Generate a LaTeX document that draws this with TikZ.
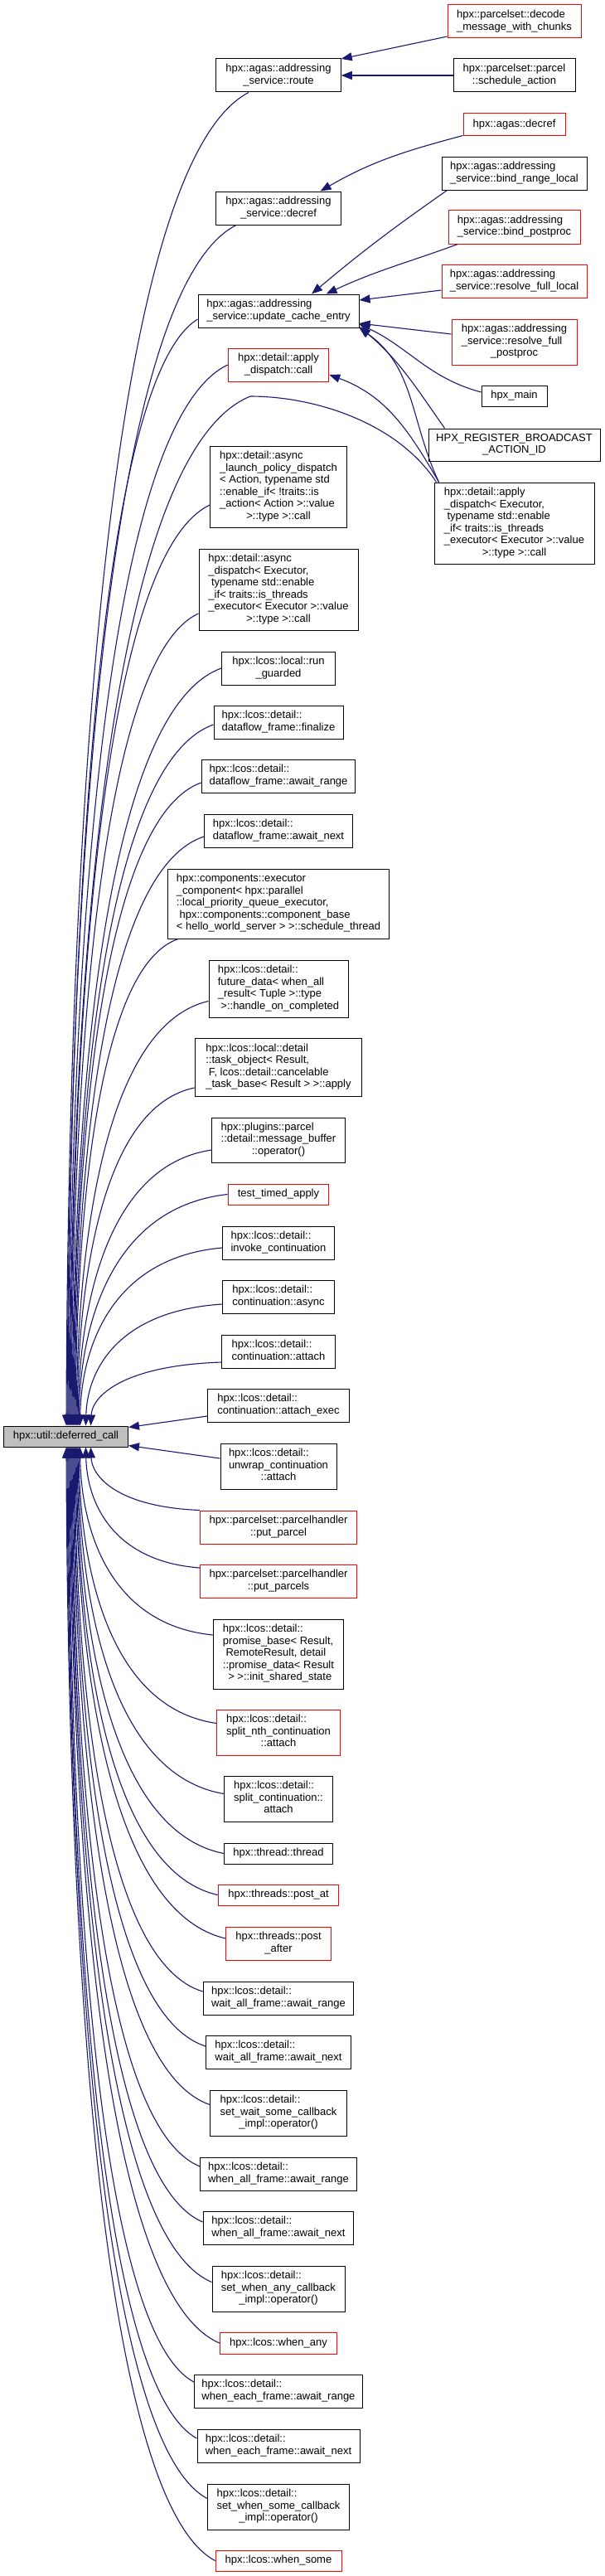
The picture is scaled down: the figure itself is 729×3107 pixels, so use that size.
\documentclass[tikz,border=0pt]{standalone}
\usepackage{fontspec}
\setmainfont{Liberation Sans}
\usetikzlibrary{arrows.meta,calc}
\definecolor{edgeblue}{HTML}{191970}
\definecolor{nodegray}{HTML}{BFBFBF}
\newcommand\dgfont{\fontsize{13}{14.5}\selectfont}
\newcommand\dlab[2]{\begin{tabular}{@{}l@{}}#1\\\multicolumn{1}{@{}c@{}}{#2}\end{tabular}}
\newcommand\ecall[2]{\draw[edge] let \p1=(#1), \p2=(#2) in (\p1) .. controls ({\x1-0.77*(\x1-\x2)},{\y1-0.055*(\y1-\y2)}) and ({\x2+0.01*(\x1-\x2)},{\y1-0.55*(\y1-\y2)}) .. (\p2);}
\tikzset{
  cn/.style={draw=black, line width=1pt, fill=white, inner sep=0pt, font=\dgfont},
  rn/.style={cn, draw=red},
  wh/.style 2 args={minimum width=#1pt, minimum height=#2pt},
  edge/.style={draw=edgeblue, line width=1.1pt, -{Triangle[length=13pt,width=10pt]}},
}
\begin{document}
\begin{tikzpicture}[x=1pt,y=1pt]
\fill[white] (0,0) rectangle (729,-3107);
\useasboundingbox (0,0) rectangle (729,-3107);
% right column
\node[rn, wh={161}{40}] (decode) at (620.5,-26) {\dlab{hpx::parcelset::decode}{\_message\_with\_chunks}};
\node[cn, wh={147}{40}] (schedule) at (620.5,-91) {\dlab{hpx::parcelset::parcel}{::schedule\_action}};
\node[rn, wh={123}{26}] (agasdecref) at (620.5,-150) {hpx::agas::decref};
\node[cn, wh={175}{40}] (bindrange) at (620.5,-209) {\dlab{hpx::agas::addressing}{\_service::bind\_range\_local}};
\node[rn, wh={159}{41}] (bindpost) at (620.5,-273.5) {\dlab{hpx::agas::addressing}{\_service::bind\_postproc}};
\node[rn, wh={175}{40}] (resolvelocal) at (620.5,-339) {\dlab{hpx::agas::addressing}{\_service::resolve\_full\_local}};
\node[rn, wh={151}{55}] (resolvepost) at (620.5,-412.5) {\dlab{hpx::agas::addressing\\\_service::resolve\_full}{\_postproc}};
\node[cn, wh={79}{25}] (hpxmain) at (620.5,-477.5) {hpx\_main};
\node[cn, wh={207}{39}] (hpxreg) at (620.5,-536.5) {\dlab{HPX\_REGISTER\_BROADCAST}{\_ACTION\_ID}};
\node[cn, wh={193}{98}] (applyexec) at (620.5,-631) {\dlab{hpx::detail::apply\\\_dispatch< Executor,\\\ typename std::enable\\\_if< traits::is\_threads\\\_executor< Executor >::value}{>::type >::call}};
% middle column
\node[cn, wh={150.5}{40}] (route) at (336,-91) {\dlab{hpx::agas::addressing}{\_service::route}};
\node[cn, wh={150.5}{40}] (asdecref) at (336,-251) {\dlab{hpx::agas::addressing}{\_service::decref}};
\node[cn, wh={194}{40}] (update) at (336,-375) {\dlab{hpx::agas::addressing}{\_service::update\_cache\_entry}};
\node[rn, wh={121.5}{40}] (applycall) at (336,-440) {\dlab{hpx::detail::apply}{\_dispatch::call}};
\node[cn, wh={164.5}{98}] (asynclaunch) at (336,-587) {\dlab{hpx::detail::async\\\_launch\_policy\_dispatch\\< Action, typename std\\::enable\_if< !traits::is\\\_action< Action >::value}{>::type >::call}};
\node[cn, wh={192}{98}] (asyncdispatch) at (336,-711) {\dlab{hpx::detail::async\\\_dispatch< Executor,\\\ typename std::enable\\\_if< traits::is\_threads\\\_executor< Executor >::value}{>::type >::call}};
\node[cn, wh={137}{40}] (runguarded) at (336,-806) {\dlab{hpx::lcos::local::run}{\_guarded}};
\node[cn, wh={156}{40}] (finalize) at (336,-871) {\dlab{hpx::lcos::detail::}{dataflow\_frame::finalize}};
\node[cn, wh={185.6}{40}] (dfrange) at (336,-936) {\dlab{hpx::lcos::detail::}{dataflow\_frame::await\_range}};
\node[cn, wh={178.6}{40}] (dfnext) at (336,-1002) {\dlab{hpx::lcos::detail::}{dataflow\_frame::await\_next}};
\node[cn, wh={267}{84}] (execcomp) at (336,-1090) {\dlab{hpx::components::executor\\\_component< hpx::parallel\\::local\_priority\_queue\_executor,\\\ hpx::components::component\_base}{< hello\_world\_server > >::schedule\_thread}};
\node[cn, wh={168}{69}] (futuredata) at (336,-1192.5) {\dlab{hpx::lcos::detail::\\future\_data< when\_all\\\_result< Tuple >::type}{\ >::handle\_on\_completed}};
\node[cn, wh={201.7}{70}] (taskobject) at (336,-1287) {\dlab{hpx::lcos::local::detail\\::task\_object< Result,\\\ F, lcos::detail::cancelable}{\_task\_base< Result > >::apply}};
\node[cn, wh={160.4}{54}] (msgbuffer) at (336,-1375) {\dlab{hpx::plugins::parcel\\::detail::message\_buffer}{::operator()}};
\node[rn, wh={121.8}{25}] (testtimed) at (336,-1440.5) {test\_timed\_apply};
\node[cn, wh={135}{40}] (invoke) at (336,-1499) {\dlab{hpx::lcos::detail::}{invoke\_continuation}};
\node[cn, wh={135}{40}] (contasync) at (336,-1564) {\dlab{hpx::lcos::detail::}{continuation::async}};
\node[cn, wh={137}{40}] (contattach) at (336,-1630) {\dlab{hpx::lcos::detail::}{continuation::attach}};
\node[cn, wh={171}{40}] (attachexec) at (336,-1695) {\dlab{hpx::lcos::detail::}{continuation::attach\_exec}};
\node[cn, wh={140}{55}] (unwrap) at (336,-1768.5) {\dlab{hpx::lcos::detail::\\unwrap\_continuation}{::attach}};
\node[rn, wh={189.4}{40}] (putparcel) at (336,-1842) {\dlab{hpx::parcelset::parcelhandler}{::put\_parcel}};
\node[rn, wh={189.4}{40}] (putparcels) at (336,-1907) {\dlab{hpx::parcelset::parcelhandler}{::put\_parcels}};
\node[cn, wh={157.6}{84}] (promise) at (336,-1995) {\dlab{hpx::lcos::detail::\\promise\_base< Result,\\\ RemoteResult, detail\\::promise\_data< Result}{\ > >::init\_shared\_state}};
\node[rn, wh={148.5}{55}] (splitnth) at (336,-2089.5) {\dlab{hpx::lcos::detail::\\split\_nth\_continuation}{::attach}};
\node[cn, wh={131}{55}] (splitcont) at (336,-2169.5) {\dlab{hpx::lcos::detail::\\split\_continuation::}{attach}};
\node[cn, wh={131}{25}] (thread) at (336,-2235.5) {hpx::thread::thread};
\node[rn, wh={145.7}{25}] (postat) at (336,-2285.5) {hpx::threads::post\_at};
\node[rn, wh={126.7}{40}] (postafter) at (336,-2344) {\dlab{hpx::threads::post}{\_after}};
\node[cn, wh={181.7}{40}] (warange) at (336,-2410) {\dlab{hpx::lcos::detail::}{wait\_all\_frame::await\_range}};
\node[cn, wh={175}{40}] (wanext) at (336,-2475) {\dlab{hpx::lcos::detail::}{wait\_all\_frame::await\_next}};
\node[cn, wh={164.6}{55}] (waitsome) at (336,-2548.5) {\dlab{hpx::lcos::detail::\\set\_wait\_some\_callback}{\_impl::operator()}};
\node[cn, wh={188.4}{40}] (walrange) at (336,-2622) {\dlab{hpx::lcos::detail::}{when\_all\_frame::await\_range}};
\node[cn, wh={181.7}{40}] (walnext) at (336,-2687) {\dlab{hpx::lcos::detail::}{when\_all\_frame::await\_next}};
\node[cn, wh={160}{55}] (whenanycb) at (336,-2760.5) {\dlab{hpx::lcos::detail::\\set\_when\_any\_callback}{\_impl::operator()}};
\node[rn, wh={141.5}{26}] (whenany) at (336,-2826) {hpx::lcos::when\_any};
\node[cn, wh={203}{40}] (werange) at (336,-2884) {\dlab{hpx::lcos::detail::}{when\_each\_frame::await\_range}};
\node[cn, wh={196}{40}] (wenext) at (336,-2950) {\dlab{hpx::lcos::detail::}{when\_each\_frame::await\_next}};
\node[cn, wh={171}{55}] (whensomecb) at (336,-3023.5) {\dlab{hpx::lcos::detail::\\set\_when\_some\_callback}{\_impl::operator()}};
\node[rn, wh={152}{25}] (whensome) at (336,-3088.5) {hpx::lcos::when\_some};
% focus node
\node[cn, fill=nodegray, wh={150}{25}] (deferred) at (79.5,-1732.5) {hpx::util::deferred\_call};
\coordinate (apk) at (302,-478);
% right-side edges
\draw[edge] ([yshift=-18pt]decode.west) -- ([yshift=20pt]route.east);
\draw[edge] (schedule.west) -- (route.east);
\draw[edge] (agasdecref.south west) to[out=195,in=30] ([xshift=50.6pt]asdecref.north);
\draw[edge] ([xshift=7pt]bindrange.south west) to[out=215,in=40] ([xshift=40pt]update.north);
\draw[edge] ([xshift=12pt]bindpost.south west) to[out=200,in=25] ([xshift=57.6pt]update.north);
\draw[edge] ([yshift=-11pt]resolvelocal.west) -- ([yshift=13pt]update.east);
\draw[edge] ([yshift=9.5pt]resolvepost.west) -- ([yshift=-15pt]update.east);
\draw[edge] ([yshift=4.5pt]hpxmain.west) to[out=165,in=-25] ([yshift=-16pt]update.east);
\draw[edge] ([xshift=20pt]hpxreg.north west) to[out=125,in=-40] ([yshift=-19pt]update.east);
\draw[edge] ([xshift=6pt]applyexec.north west) to[out=115,in=-35] (update.south east);
\draw[edge] ([xshift=6pt]applyexec.north west) to[out=120,in=-20] ([yshift=-12pt]applycall.east);
\draw[edge] ([xshift=3pt]applyexec.north west) .. controls (480,-510) and (380,-478) .. (apk) .. controls (134,-546) and (86,-1161) .. ([xshift=4.5pt]deferred.north);
% edges from above into deferred_call
\ecall{[xshift=-36pt]route.south}{[xshift=0.5pt]deferred.north}
\ecall{[xshift=-51pt]asdecref.south}{[xshift=1.5pt]deferred.north}
\ecall{[yshift=-10pt]update.west}{[xshift=2.5pt]deferred.north}
\ecall{applycall.west}{[xshift=3.5pt]deferred.north}
\ecall{[yshift=-22pt]asynclaunch.west}{[xshift=5.5pt]deferred.north}
\ecall{[yshift=-29pt]asyncdispatch.west}{[xshift=6.5pt]deferred.north}
\ecall{runguarded.west}{[xshift=7.5pt]deferred.north}
\ecall{[yshift=-3pt]finalize.west}{[xshift=8.5pt]deferred.north}
\ecall{[yshift=-8pt]dfrange.west}{[xshift=9.5pt]deferred.north}
\ecall{[yshift=-7pt]dfnext.west}{[xshift=10.5pt]deferred.north}
\ecall{[xshift=13pt]execcomp.south west}{[xshift=11.5pt]deferred.north}
\ecall{[yshift=-15pt]futuredata.west}{[xshift=12.5pt]deferred.north}
\ecall{[yshift=-25pt]taskobject.west}{[xshift=13.5pt]deferred.north}
\ecall{[yshift=-12pt]msgbuffer.west}{[xshift=14.5pt]deferred.north}
\ecall{testtimed.west}{[xshift=15.5pt]deferred.north}
\ecall{[yshift=-6pt]invoke.west}{[xshift=17pt]deferred.north}
\ecall{[yshift=-9pt]contasync.west}{[xshift=24pt]deferred.north}
\ecall{[yshift=-13pt]contattach.west}{[xshift=30pt]deferred.north}
\draw[edge] ([yshift=-13pt]attachexec.west) -- ([yshift=-2pt]deferred.north east);
\draw[edge] ([yshift=9.5pt]unwrap.west) -- ([yshift=2pt]deferred.south east);
% edges from below into deferred_call
\ecall{putparcel.north west}{[xshift=30pt]deferred.south}
\ecall{[yshift=16pt]putparcels.west}{[xshift=24pt]deferred.south}
\ecall{[yshift=23pt]promise.west}{[xshift=17pt]deferred.south}
\ecall{[yshift=11pt]splitnth.west}{[xshift=15.5pt]deferred.south}
\ecall{[yshift=6pt]splitcont.west}{[xshift=14.5pt]deferred.south}
\ecall{thread.west}{[xshift=13.5pt]deferred.south}
\ecall{postat.west}{[xshift=12.5pt]deferred.south}
\ecall{[yshift=6pt]postafter.west}{[xshift=11.5pt]deferred.south}
\ecall{[yshift=8pt]warange.west}{[xshift=10.5pt]deferred.south}
\ecall{[yshift=7pt]wanext.west}{[xshift=9.5pt]deferred.south}
\ecall{[yshift=10pt]waitsome.west}{[xshift=8.5pt]deferred.south}
\ecall{[yshift=9pt]walrange.west}{[xshift=7.5pt]deferred.south}
\ecall{[yshift=7pt]walnext.west}{[xshift=6.5pt]deferred.south}
\ecall{[yshift=8pt]whenanycb.west}{[xshift=5.5pt]deferred.south}
\ecall{whenany.west}{[xshift=4.5pt]deferred.south}
\ecall{[yshift=11pt]werange.west}{[xshift=3.5pt]deferred.south}
\ecall{[yshift=9pt]wenext.west}{[xshift=2.5pt]deferred.south}
\ecall{[yshift=10pt]whensomecb.west}{[xshift=1.5pt]deferred.south}
\ecall{whensome.west}{[xshift=0.5pt]deferred.south}
\end{tikzpicture}
\end{document}
